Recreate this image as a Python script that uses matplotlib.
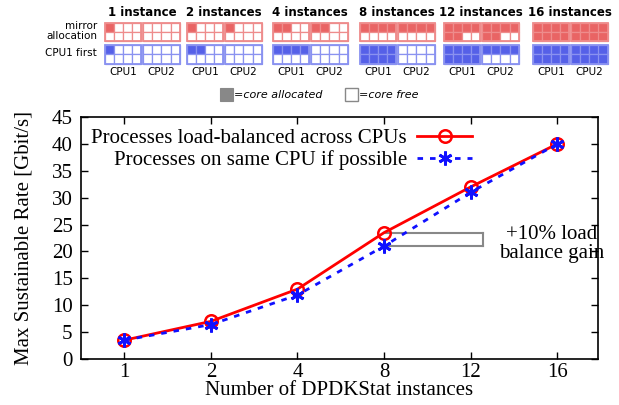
import matplotlib
matplotlib.use("Agg")
import matplotlib.pyplot as plt
from matplotlib.patches import Rectangle

# ---------------- data ----------------
instances = [1, 2, 4, 8, 12, 16]
x_labels = ["1", "2", "4", "8", "12", "16"]
rate_balanced = [3.5, 7.0, 13.0, 23.5, 32.0, 40.0]
rate_same_cpu = [3.5, 6.4, 11.9, 21.0, 31.0, 40.0]

group_titles = ["1 instance", "2 instances", "4 instances", "8 instances",
                "12 instances", "16 instances"]
mirror_cpu1 = [1, 1, 2, 4, 6, 8]
mirror_cpu2 = [0, 1, 2, 4, 6, 8]
first_cpu1 = [1, 2, 4, 8, 8, 8]
first_cpu2 = [0, 0, 0, 0, 4, 8]

# ---------------- figure ----------------
W, H = 619, 405
fig = plt.figure(figsize=(W / 100, H / 100), dpi=100)

# overlay axes in pixel coordinates for the allocation schematic
ov = fig.add_axes([0, 0, 1, 1])
ov.set_xlim(0, W)
ov.set_ylim(H, 0)
ov.axis("off")

SANS = "DejaVu Sans"
RED_FILL, RED_EDGE = "#e96464", "#ee8c8c"
BLUE_FILL, BLUE_EDGE = "#5560e8", "#8a92f0"

group_x = [105, 187, 273, 360, 444, 533]
cell_w, cell_h = 9.1, 9.4
cpu_gap = 1.8
red_y, blue_y = 22.5, 45.0


def draw_cpu(x0, y0, nfill, fill, edge):
    for r in range(2):
        for c in range(4):
            idx = r * 4 + c
            fc = fill if idx < nfill else "white"
            ov.add_patch(Rectangle((x0 + c * cell_w, y0 + r * cell_h), cell_w, cell_h,
                                   facecolor=fc, edgecolor=edge, lw=0.9))
    ov.add_patch(Rectangle((x0, y0), 4 * cell_w, 2 * cell_h, facecolor="none",
                           edgecolor=edge, lw=1.3))


for i, gx in enumerate(group_x):
    gw = 8 * cell_w + cpu_gap
    ov.text(gx + gw / 2, 13, group_titles[i], ha="center", va="center",
            fontsize=8.5, fontweight="bold", family=SANS)
    draw_cpu(gx, red_y, mirror_cpu1[i], RED_FILL, RED_EDGE)
    draw_cpu(gx + 4 * cell_w + cpu_gap, red_y, mirror_cpu2[i], RED_FILL, RED_EDGE)
    draw_cpu(gx, blue_y, first_cpu1[i], BLUE_FILL, BLUE_EDGE)
    draw_cpu(gx + 4 * cell_w + cpu_gap, blue_y, first_cpu2[i], BLUE_FILL, BLUE_EDGE)
    ov.text(gx + 2 * cell_w, 72, "CPU1", ha="center", va="center", fontsize=7.5, family=SANS)
    ov.text(gx + 6 * cell_w + cpu_gap, 72, "CPU2", ha="center", va="center", fontsize=7.5, family=SANS)

ov.text(97, 31, "mirror\nallocation", ha="right", va="center", fontsize=7.5,
        family=SANS, linespacing=1.0)
ov.text(97, 53, "CPU1 first", ha="right", va="center", fontsize=7.5, family=SANS)

ov.add_patch(Rectangle((220, 88), 13, 13, facecolor="#888888", edgecolor="#888888", lw=0.8))
ov.text(234, 94.5, "=core allocated", ha="left", va="center", fontsize=8,
        style="italic", family=SANS)
ov.add_patch(Rectangle((344.5, 88), 13, 13, facecolor="white", edgecolor="#888888", lw=1.0))
ov.text(359, 94.5, "=core free", ha="left", va="center", fontsize=8,
        style="italic", family=SANS)

# ---------------- main chart ----------------
SERIF = "Liberation Serif"
ax = fig.add_axes([81 / W, 1 - 359 / H, (598 - 81) / W, (359 - 117) / H])
xs = list(range(len(instances)))

ax.plot(xs, rate_balanced, color="#ff0000", lw=2, marker="o", ms=9,
        mfc="none", mec="#ff0000", mew=1.8,
        label="Processes load-balanced across CPUs", zorder=3)
ax.plot(xs, rate_same_cpu, color="#1010ff", lw=2, ls=(0, (2, 2.5)),
        marker=(6, 2, 0), ms=10, mec="#1010ff", mew=2,
        label="Processes on same CPU if possible", zorder=4)

# +10% bracket at 8 instances
i8 = instances.index(8)
x_end = i8 + 1.14
ax.plot([i8, x_end], [rate_balanced[i8]] * 2, color="#888888", lw=1.5, zorder=2)
ax.plot([i8, x_end], [rate_same_cpu[i8]] * 2, color="#888888", lw=1.5, zorder=2)
ax.plot([x_end, x_end], [rate_same_cpu[i8], rate_balanced[i8]], color="#888888",
        lw=1.5, zorder=2)
ax.text(4.93, 21.4, "+10% load\nbalance gain", ha="center", va="center",
        fontsize=15, family=SERIF, linespacing=1.05)

ax.set_xlim(-0.5, 5.47)
ax.set_ylim(0, 45)
ax.set_xticks(xs)
ax.set_xticklabels(x_labels)
ax.set_yticks(range(0, 46, 5))
ax.tick_params(direction="in", top=True, right=True, length=5, width=1,
               labelsize=15)
ax.tick_params(axis="x", pad=3)
ax.tick_params(axis="y", pad=6)
for lab in ax.get_xticklabels() + ax.get_yticklabels():
    lab.set_family(SERIF)
for s in ax.spines.values():
    s.set_linewidth(1.2)

ax.set_xlabel("Number of DPDKStat instances", fontsize=15, family=SERIF, labelpad=-1)
ax.set_ylabel("Max Sustainable Rate [Gbit/s]", fontsize=15, family=SERIF, labelpad=13)

leg = ax.legend(loc="upper left", bbox_to_anchor=(-0.002, 1.0), frameon=False,
                markerfirst=False, handlelength=2.6, handletextpad=0.5,
                labelspacing=0.1, borderaxespad=0.15,
                prop={"family": SERIF, "size": 15})

fig.savefig("out.png", dpi=100)
